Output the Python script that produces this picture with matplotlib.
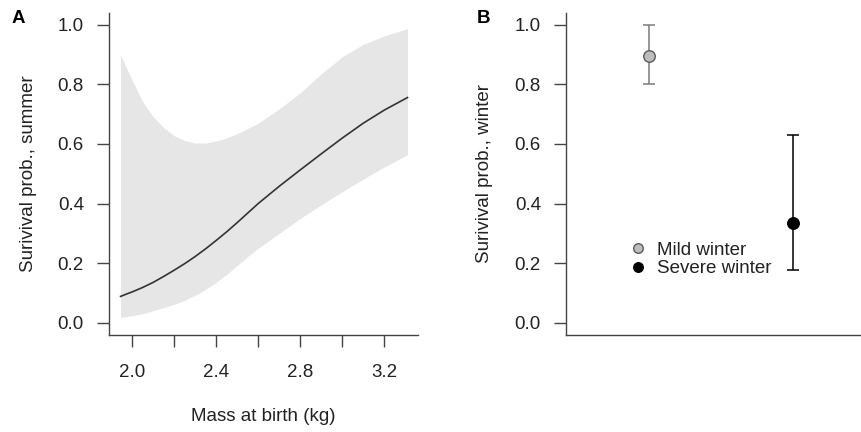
import matplotlib
matplotlib.use('Agg')
import matplotlib.pyplot as plt

plt.rcParams['font.family'] = ['Liberation Sans', 'DejaVu Sans']

# panel A: summer survival vs mass at birth (fit + 95% band)
mass = [1.945, 1.97, 2.0, 2.05, 2.1, 2.15, 2.2, 2.25, 2.3, 2.35, 2.4, 2.45,
        2.5, 2.55, 2.6, 2.7, 2.8, 2.9, 3.0, 3.1, 3.2, 3.31]
surv_fit = [0.088, 0.095, 0.103, 0.118, 0.135, 0.155, 0.176, 0.198, 0.222,
            0.248, 0.276, 0.305, 0.336, 0.368, 0.400, 0.458, 0.513, 0.567,
            0.620, 0.670, 0.714, 0.756]
surv_lo = [0.017, 0.020, 0.023, 0.030, 0.040, 0.050, 0.061, 0.075, 0.092,
           0.112, 0.135, 0.162, 0.192, 0.222, 0.250, 0.300, 0.350, 0.396,
           0.440, 0.482, 0.523, 0.564]
surv_hi = [0.900, 0.860, 0.815, 0.742, 0.692, 0.655, 0.628, 0.612, 0.603,
           0.603, 0.610, 0.620, 0.635, 0.652, 0.670, 0.718, 0.772, 0.836,
           0.893, 0.935, 0.963, 0.988]
mass_ticks = [2.0, 2.2, 2.4, 2.6, 2.8, 3.0, 3.2]
mass_ticklabels = ['2.0', '', '2.4', '', '2.8', '', '3.2']

# panel B: winter survival by winter type
winter = ['Mild winter', 'Severe winter']
winter_pos = [1, 2]
winter_est = [0.895, 0.333]
winter_lo = [0.802, 0.178]
winter_hi = [1.0, 0.629]

prob_ticks = [0.0, 0.2, 0.4, 0.6, 0.8, 1.0]
prob_ticklabels = ['0.0', '0.2', '0.4', '0.6', '0.8', '1.0']

W, H = 862, 432
FS = 13.5
axis_col = '#444444'
text_col = '#222222'

fig = plt.figure(figsize=(W / 100, H / 100), dpi=100)
bottom = (H - 334.5) / H
height = 321.5 / H
axA = fig.add_axes([109 / W, bottom, 309 / W, height])
axB = fig.add_axes([566 / W, bottom, 310.5 / W, height])


def style(ax):
    for s in ['top', 'right']:
        ax.spines[s].set_visible(False)
    for s in ['left', 'bottom']:
        ax.spines[s].set_color(axis_col)
        ax.spines[s].set_linewidth(1.0)
    ax.tick_params(axis='both', direction='out', length=8.5, width=1.0,
                   color=axis_col, labelsize=FS, labelcolor=text_col)
    ax.tick_params(axis='y', pad=9.5)
    ax.tick_params(axis='x', pad=12.5)
    ax.set_ylim(-0.04, 1.04)
    ax.set_yticks(prob_ticks)
    ax.set_yticklabels(prob_ticklabels)


# --- A
style(axA)
axA.fill_between(mass, surv_lo, surv_hi, color='#e6e6e6', linewidth=0)
axA.plot(mass, surv_fit, color='#333333', linewidth=1.2)
axA.set_xlim(1.89, 3.36)
axA.set_xticks(mass_ticks)
axA.set_xticklabels(mass_ticklabels)
axA.set_xlabel('Mass at birth (kg)', fontsize=FS, color=text_col)
axA.xaxis.set_label_coords(0.5, -0.2286)
axA.set_ylabel('Surivival prob., summer', fontsize=FS, color=text_col)
axA.yaxis.set_label_coords(-0.232, 0.5)

# --- B
style(axB)
axB.set_xlim(0.42, 2.58)
axB.set_xticks([])
colors = ['#7a7a7a', 'black']
fills = ['#bdbdbd', 'black']
edges = ['#5a5a5a', 'black']
for i in range(2):
    axB.errorbar(winter_pos[i], winter_est[i],
                 yerr=[[winter_est[i] - winter_lo[i]], [winter_hi[i] - winter_est[i]]],
                 fmt='none', ecolor=colors[i], elinewidth=1.1, capsize=4.5,
                 capthick=1.1, zorder=2)
    axB.plot(winter_pos[i], winter_est[i], 'o', markersize=8.3,
             markerfacecolor=fills[i], markeredgecolor=edges[i],
             markeredgewidth=1.0, label=winter[i], zorder=3)
axB.set_ylabel('Surivival prob., winter', fontsize=FS, color=text_col)
axB.yaxis.set_label_coords(-0.2335, 0.5)
leg = axB.legend(loc='upper left', bbox_to_anchor=(0.2138, 0.288),
                 frameon=False, fontsize=FS, handlelength=0.6,
                 handletextpad=0.69, labelspacing=0.05, borderpad=0,
                 borderaxespad=0, markerscale=0.83)
for t in leg.get_texts():
    t.set_color(text_col)

fig.text(18.5 / W, 1 - 18.5 / H, 'A', fontsize=FS, fontweight='bold',
         ha='center', va='center', color='black')
fig.text(484 / W, 1 - 18.5 / H, 'B', fontsize=FS, fontweight='bold',
         ha='center', va='center', color='black')

fig.savefig('out.png', dpi=100)
